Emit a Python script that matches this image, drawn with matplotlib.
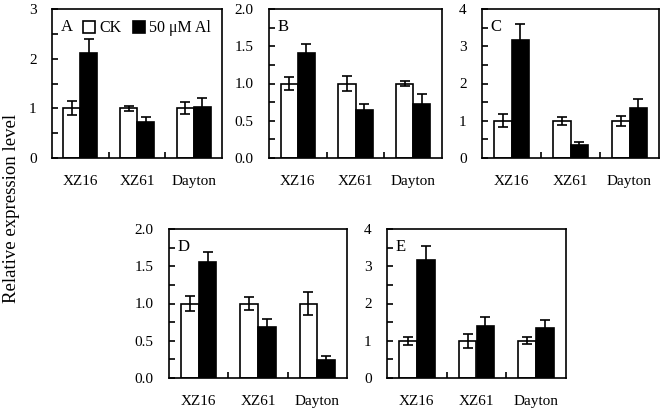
import matplotlib
matplotlib.use("Agg")
import matplotlib.pyplot as plt
from matplotlib.ticker import MultipleLocator, FormatStrFormatter
import numpy as np

plt.rcParams['font.family'] = ['Liberation Serif', 'DejaVu Serif']
plt.rcParams['font.size'] = 11

cultivars = ["XZ16", "XZ61", "Dayton"]
panels = ["A", "B", "C", "D", "E"]

ck_mean = {"A": [1.0, 1.0, 1.0], "B": [1.0, 1.0, 1.0], "C": [1.0, 1.0, 1.0],
           "D": [1.0, 1.0, 1.0], "E": [1.0, 1.0, 1.0]}
ck_err = {"A": [0.14, 0.05, 0.12], "B": [0.09, 0.1, 0.04], "C": [0.18, 0.11, 0.14],
          "D": [0.1, 0.09, 0.16], "E": [0.11, 0.19, 0.1]}
al_mean = {"A": [2.11, 0.72, 1.03], "B": [1.41, 0.64, 0.73], "C": [3.17, 0.36, 1.35],
           "D": [1.56, 0.69, 0.24], "E": [3.17, 1.39, 1.34]}
al_err = {"A": [0.29, 0.1, 0.18], "B": [0.12, 0.09, 0.13], "C": [0.44, 0.06, 0.24],
          "D": [0.13, 0.1, 0.05], "E": [0.38, 0.24, 0.23]}
y_top = {"A": 3, "B": 2.0, "C": 4, "D": 2.0, "E": 4}
y_step = {"A": 1, "B": 0.5, "C": 1, "D": 0.5, "E": 1}

W, H = 664, 417
# axes boxes in pixels: left, top, right, bottom
boxes = {"A": (52, 9, 222, 158), "B": (269, 9, 442, 158), "C": (482, 9, 659, 158),
         "D": (169, 229, 347, 378), "E": (387, 229, 566, 378)}

fig = plt.figure(figsize=(W / 100, H / 100), dpi=100)

for p in panels:
    l, t, r, b = boxes[p]
    ax = fig.add_axes([l / W, 1 - b / H, (r - l) / W, (b - t) / H])
    x = np.arange(len(cultivars))
    w = 0.3
    ax.bar(x - w / 2, ck_mean[p], w, color="white", edgecolor="black", linewidth=1.2,
           label="CK", zorder=2)
    ax.bar(x + w / 2, al_mean[p], w, color="black", edgecolor="black", linewidth=1.2,
           label="50 \u03bcM Al", zorder=2)
    ax.errorbar(x - w / 2, ck_mean[p], yerr=ck_err[p], fmt="none", ecolor="black",
                elinewidth=1.2, capsize=3.6, capthick=1.2, zorder=3)
    ax.errorbar(x + w / 2, al_mean[p], yerr=al_err[p], fmt="none", ecolor="black",
                elinewidth=1.2, capsize=3.6, capthick=1.2, zorder=3)
    ax.set_xlim(-0.5, 2.5)
    ax.set_ylim(0, y_top[p])
    ax.yaxis.set_major_locator(MultipleLocator(y_step[p]))
    ax.yaxis.set_minor_locator(MultipleLocator(y_step[p] / 2))
    if y_step[p] < 1:
        ax.yaxis.set_major_formatter(FormatStrFormatter("%.1f"))
    ax.set_xticks([0.5, 1.5])
    ax.set_xticklabels([])
    ax.tick_params(axis="x", direction="in", length=4, width=1.2)
    ax.tick_params(axis="y", which="both", direction="in", width=1.2, length=4)
    ax.tick_params(axis="y", which="major", pad=11)
    for i, c in enumerate(cultivars):
        ax.annotate(c, (i, 0), xycoords=ax.get_xaxis_transform(), xytext=(0, -17),
                    textcoords="offset points", ha="center", va="center")
    for s in ax.spines.values():
        s.set_linewidth(1.2)
    ax.text(0.05, 0.93, p, transform=ax.transAxes, ha="left", va="top", fontsize=12)
    if p == "A":
        ax.legend(loc="upper left", bbox_to_anchor=(0.1, 1.02), ncol=2, frameon=False,
                  handlelength=0.75, handleheight=0.75, handletextpad=0.25,
                  columnspacing=0.7, fontsize=11.5)

fig.text(12 / W, 0.5, "Relative expression level", rotation=90, ha="center",
         va="center", fontsize=13.5)

fig.savefig("out.png", dpi=100)
